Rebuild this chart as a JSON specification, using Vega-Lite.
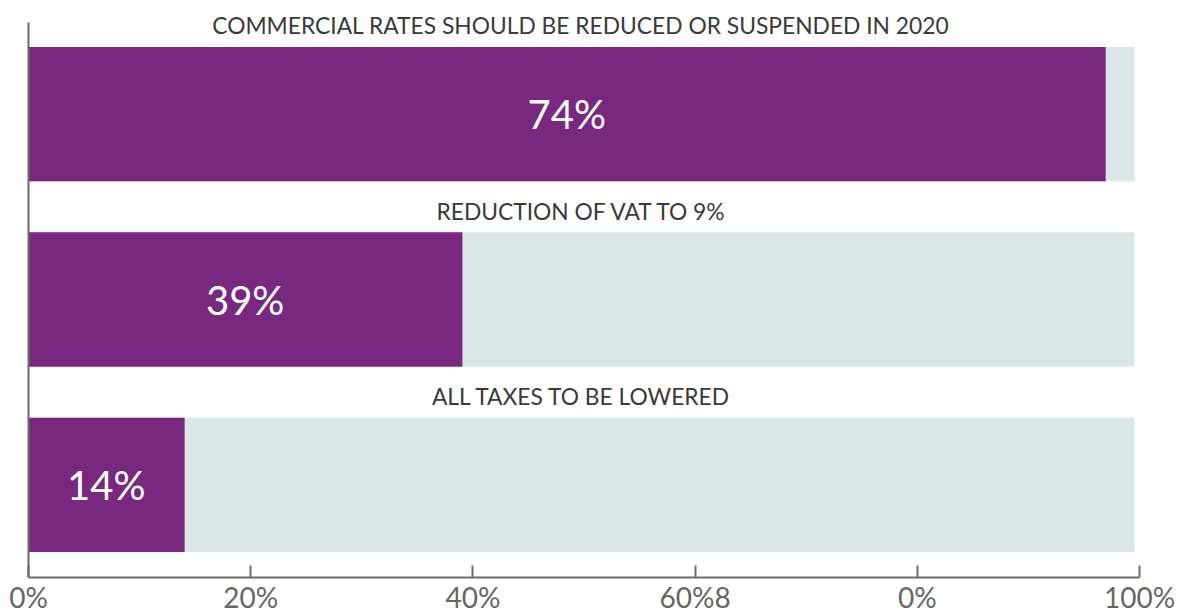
{
  "$schema": "https://vega.github.io/schema/vega-lite/v6.json",
  "width": 1111,
  "height": 555,
  "autosize": {"type": "none"},
  "padding": {"left": 28, "top": 22, "right": 46, "bottom": 35},
  "background": "white",
  "config": {"view": {"stroke": null}, "font": "Lato"},
  "data": {
    "values": [
      {"category": "COMMERCIAL RATES SHOULD BE REDUCED OR SUSPENDED IN 2020", "value": 97.0, "full": 99.6, "label": "74%"},
      {"category": "REDUCTION OF VAT TO 9%", "value": 39.1, "full": 99.6, "label": "39%"},
      {"category": "ALL TAXES TO BE LOWERED", "value": 14.1, "full": 99.6, "label": "14%"}
    ]
  },
  "encoding": {
    "y": {
      "field": "category",
      "type": "nominal",
      "sort": ["COMMERCIAL RATES SHOULD BE REDUCED OR SUSPENDED IN 2020", "REDUCTION OF VAT TO 9%", "ALL TAXES TO BE LOWERED"],
      "scale": {"paddingInner": 0.2757, "paddingOuter": 0.135},
      "axis": {"labels": false, "ticks": false, "title": null, "grid": false, "domainColor": "#6b6b6b", "domainWidth": 2, "zindex": 1}
    }
  },
  "layer": [
    {
      "mark": {"type": "bar", "color": "#dbe6e6"},
      "encoding": {
        "x": {
          "field": "full",
          "type": "quantitative",
          "scale": {"domain": [0, 100], "nice": false},
          "axis": {
            "values": [0, 20, 40, 60, 80, 100],
            "labelExpr": "datum.value == 60 ? '60%8' : datum.value == 80 ? '0%' : datum.value + '%'",
            "title": null,
            "grid": false,
            "domainColor": "#6b6b6b",
            "domainWidth": 2,
            "tickColor": "#6b6b6b",
            "tickWidth": 2,
            "tickSize": -12,
            "labelPadding": 20,
            "labelFont": "Lato",
            "labelFontSize": 28,
            "labelColor": "#666666",
            "labelFlush": false,
            "labelOverlap": false,
            "zindex": 1
          }
        }
      }
    },
    {
      "mark": {"type": "bar", "color": "#79287f"},
      "encoding": {"x": {"field": "value", "type": "quantitative"}}
    },
    {
      "transform": [{"calculate": "datum.value / 2", "as": "mid"}],
      "mark": {"type": "text", "color": "white", "fontSize": 40, "baseline": "middle", "align": "center", "dy": 3, "font": "Lato"},
      "encoding": {
        "x": {"field": "mid", "type": "quantitative"},
        "text": {"field": "label"}
      }
    },
    {
      "mark": {"type": "text", "color": "#3a3a3a", "fontSize": 22.8, "baseline": "middle", "align": "center", "dy": -87, "dx": -3, "font": "Lato"},
      "encoding": {
        "x": {"datum": 50},
        "text": {"field": "category"}
      }
    }
  ]
}
